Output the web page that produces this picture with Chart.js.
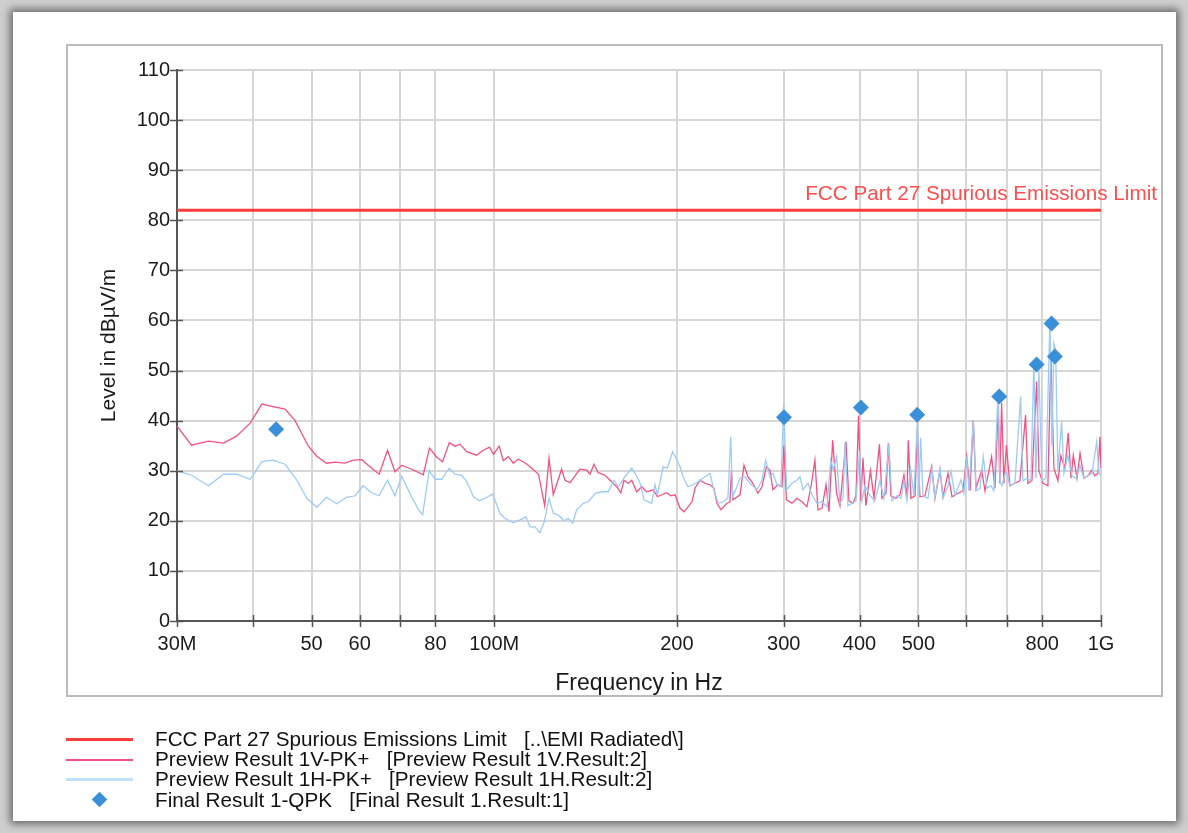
<!DOCTYPE html>
<html>
<head>
<meta charset="utf-8">
<title>EMI Radiated</title>
<script src="https://cdn.jsdelivr.net/npm/chart.js@4.4.1/dist/chart.umd.min.js"></script>
<style>
    html, body { margin: 0; padding: 0; }
    body {
        width: 1188px; height: 833px; position: relative; overflow: hidden;
        background: #cfcfcf;
        font-family: "Liberation Sans", Arial, sans-serif;
    }
    #sheet {
        position: absolute; left: 13px; top: 12px; width: 1163px; height: 809px;
        background: #fff; box-shadow: 0 0 8px 3px rgba(70,70,70,0.75);
    }
    #frame {
        position: absolute; left: 66px; top: 44px; width: 1097px; height: 653px;
        border: 2px solid #bababa; box-sizing: border-box;
    }
    #chart { position: absolute; left: 0; top: 0; }
    .lg { position: absolute; left: 66px; width: 800px; height: 20px; }
    .lg .txt {
        position: absolute; left: 89px; top: 0; white-space: pre;
        font-size: 20.7px; line-height: 20px; color: #111;
    }
    .lg .sw { position: absolute; left: 0; width: 67px; }
    .sw.limit { top: 9px; height: 3px; background: #ff3b3b; }
    .sw.vert { top: 10px; height: 2px; background: #f5507f; }
    .sw.horz { top: 9px; height: 3px; background: #bfe0ff; }
    .sw.final {
        left: 28px; top: 4px; width: 11px; height: 11px; background: #3a8fd9;
        transform: rotate(45deg);
    }
</style>
</head>
<body>
<div id="sheet"></div>
<div id="frame"></div>
<canvas id="chart" width="1188" height="833"></canvas>

<div class="lg" style="top:729px"><span class="sw limit"></span><span class="txt">FCC Part 27 Spurious Emissions Limit   [..\EMI Radiated\]</span></div>
<div class="lg" style="top:749px"><span class="sw vert"></span><span class="txt">Preview Result 1V-PK+   [Preview Result 1V.Result:2]</span></div>
<div class="lg" style="top:769px"><span class="sw horz"></span><span class="txt">Preview Result 1H-PK+   [Preview Result 1H.Result:2]</span></div>
<div class="lg" style="top:790px"><span class="sw final"></span><span class="txt">Final Result 1-QPK   [Final Result 1.Result:1]</span></div>

<script>
// ---- data (frequency in MHz, level in dBµV/m) ----
const xGridValues = [30, 40, 50, 60, 70, 80, 100, 200, 300, 400, 500, 600, 700, 800, 1000];
const xTickLabels = ['30M', '', '50', '60', '', '80', '100M', '200', '300', '400', '500', '', '', '800', '1G'];

const limitName = 'FCC Part 27 Spurious Emissions Limit';
const limitFreq = [30, 1000];
const limitLevel = [82, 82];

const freqV = [
    30.0, 31.7, 33.8, 35.8, 37.6, 39.6, 41.4, 43.2, 45.2, 46.9, 49.4, 51.0, 52.9, 54.6, 56.7, 58.6,
    60.5, 62.4, 64.6, 66.7, 68.6, 70.4, 73.1, 76.4, 78.2, 80.4, 82.2, 84.3, 86.2, 87.8, 90.1, 93.5,
    95.9, 98.2, 99.7, 101.9, 103.5, 105.5, 107.5, 109.5, 111.6, 113.8, 116.0, 118.3, 121.1, 123.1, 125.1, 129.1,
    130.8, 133.3, 138.4, 142.0, 143.8, 146.0, 148.4, 152.2, 156.1, 159.1, 161.7, 163.6, 166.3, 168.5, 171.7, 175.0,
    178.3, 182.9, 185.7, 188.8, 192.4, 195.4, 198.6, 202.4, 205.5, 208.6, 211.8, 214.2, 218.3, 222.4, 226.8, 230.2,
    232.8, 236.4, 241.8, 244.6, 246.0, 247.4, 254.1, 258.0, 261.8, 266.9, 272.0, 276.2, 280.9, 284.7, 287.9, 293.5,
    298.0, 300.2, 303.1, 309.5, 315.4, 321.5, 327.6, 332.7, 337.7, 341.6, 346.8, 352.2, 356.2, 361.2, 366.7, 371.3,
    379.9, 384.2, 390.1, 394.6, 398.5, 402.1, 405.2, 409.8, 416.9, 422.5, 431.4, 435.5, 442.2, 446.1, 450.6, 459.3,
    466.3, 473.4, 478.8, 481.2, 486.2, 493.6, 497.9, 503.0, 512.7, 525.9, 532.5, 542.8, 549.0, 559.6, 568.1, 581.2,
    592.3, 600.7, 608.3, 615.9, 622.3, 635.9, 643.9, 660.3, 668.6, 677.0, 681.0, 685.8, 691.8, 698.4, 707.8, 721.3,
    735.1, 751.1, 757.8, 769.4, 783.2, 790.1, 802.1, 817.5, 826.9, 836.3, 849.1, 858.8, 872.0, 883.0, 892.5, 900.2,
    913.0, 923.5, 937.5, 951.9, 965.3, 977.5, 988.7, 996.0, 1000
];
const levelV = [
    38.9, 35.1, 35.9, 35.5, 36.9, 39.5, 43.3, 42.8, 42.3, 40.1, 34.9, 32.9, 31.5, 31.7, 31.5, 32.1,
    32.2, 30.8, 29.3, 34.1, 29.8, 31.1, 30.3, 29.2, 34.5, 32.7, 31.8, 35.6, 34.9, 35.3, 33.8, 33.1,
    34.1, 34.7, 33.3, 34.9, 32.0, 32.8, 31.5, 32.3, 31.8, 31.1, 30.2, 29.3, 23.0, 32.5, 25.2, 30.3,
    28.1, 27.6, 30.3, 30.1, 29.3, 31.3, 29.6, 29.1, 27.8, 26.8, 25.6, 28.1, 27.5, 28.1, 25.8, 26.8,
    25.8, 26.2, 24.8, 25.2, 25.6, 25.0, 25.2, 22.5, 21.8, 22.8, 23.8, 26.5, 28.1, 27.5, 27.2, 26.5,
    23.5, 22.2, 23.5, 23.8, 30.0, 24.2, 25.2, 31.1, 28.8, 27.5, 25.5, 26.8, 30.8, 30.1, 26.2, 27.2,
    26.8, 35.0, 24.2, 23.5, 24.5, 23.8, 22.8, 26.8, 32.1, 22.2, 22.5, 27.2, 21.8, 36.1, 25.5, 23.0,
    35.8, 24.0, 23.5, 25.0, 41.0, 24.0, 32.6, 23.0, 30.0, 24.5, 35.3, 24.5, 25.5, 35.5, 25.0, 24.5,
    25.2, 29.2, 24.5, 36.1, 24.5, 25.0, 38.0, 24.8, 25.0, 30.8, 24.5, 30.0, 24.8, 29.5, 24.8, 25.5,
    26.0, 32.8, 26.0, 40.1, 26.5, 30.1, 26.0, 32.8, 26.5, 43.0, 27.5, 43.5, 27.5, 35.1, 27.0, 27.5,
    28.0, 41.1, 27.5, 28.0, 47.8, 30.0, 27.5, 27.0, 53.0, 30.5, 28.0, 33.0, 30.5, 37.5, 28.5, 33.1,
    28.5, 33.5, 28.5, 29.0, 30.1, 29.0, 29.5, 36.8, 30.5
];

const freqH = [
    30.0, 31.7, 33.8, 35.8, 37.6, 39.6, 41.4, 43.2, 45.2, 47.3, 49.1, 51.0, 52.9, 55.0, 57.1, 59.0,
    60.8, 62.8, 64.6, 66.7, 68.6, 70.4, 73.1, 75.4, 76.2, 78.1, 79.9, 81.9, 84.3, 86.1, 88.4, 90.1,
    92.4, 94.5, 96.5, 99.4, 102.2, 104.1, 107.5, 110.2, 112.8, 114.5, 116.7, 118.9, 120.9, 123.1, 125.1, 127.5,
    130.3, 132.4, 134.7, 136.7, 140.2, 142.9, 146.7, 150.5, 154.1, 157.6, 160.1, 164.2, 168.5, 171.3, 173.9, 176.6,
    181.8, 184.0, 185.7, 189.9, 192.8, 196.8, 200.0, 202.4, 204.7, 208.6, 212.6, 216.7, 220.7, 226.8, 229.4, 233.7,
    238.2, 242.7, 245.3, 247.1, 251.2, 254.1, 259.0, 263.9, 271.0, 276.2, 280.1, 284.7, 287.9, 292.4, 296.8, 299.9,
    303.3, 309.5, 315.4, 319.0, 322.7, 328.9, 333.9, 340.3, 346.8, 353.5, 358.5, 362.0, 366.7, 371.3, 375.6, 378.4,
    382.8, 388.6, 394.6, 400.0, 403.6, 408.3, 416.1, 424.1, 432.2, 438.8, 447.2, 452.3, 461.0, 468.1, 473.4, 478.8,
    485.3, 491.7, 497.9, 501.1, 504.4, 508.8, 518.6, 526.5, 532.5, 542.8, 549.0, 559.6, 566.0, 574.6, 587.8, 594.5,
    600.7, 605.9, 615.9, 622.3, 631.8, 639.8, 648.6, 658.6, 666.0, 677.0, 681.4, 686.6, 697.1, 707.8, 721.3, 737.1,
    743.5, 754.9, 766.4, 775.2, 781.1, 790.1, 799.1, 811.3, 823.8, 830.0, 836.3, 841.8, 849.1, 861.1, 868.7, 881.9,
    895.8, 909.5, 923.5, 937.5, 951.9, 966.5, 983.8, 992.5, 1000
];
const levelH = [
    30.0, 29.1, 27.0, 29.3, 29.3, 28.3, 31.8, 32.1, 31.3, 28.1, 24.5, 22.7, 24.7, 23.4, 24.7, 25.0,
    27.0, 25.6, 25.0, 28.1, 25.0, 28.9, 24.7, 21.8, 21.2, 30.0, 28.3, 28.3, 30.5, 29.3, 29.1, 27.8,
    24.8, 24.0, 24.5, 25.3, 21.5, 20.5, 19.6, 20.2, 20.8, 18.8, 18.8, 17.6, 19.8, 24.5, 21.5, 21.2,
    20.0, 20.5, 19.5, 22.2, 23.5, 23.8, 25.5, 25.8, 25.8, 28.1, 26.8, 28.8, 30.5, 29.1, 27.5, 24.2,
    23.5, 27.2, 25.2, 30.8, 30.5, 33.8, 32.1, 30.8, 28.8, 26.8, 27.2, 27.8, 28.5, 29.5, 26.8, 23.5,
    23.8, 24.5, 36.8, 24.8, 26.8, 28.5, 28.8, 27.5, 26.2, 28.1, 32.1, 28.8, 29.5, 27.2, 26.8, 43.5,
    26.2, 27.5, 28.1, 28.8, 26.2, 27.5, 25.2, 23.5, 23.8, 22.8, 32.1, 30.1, 32.8, 23.5, 24.5, 35.6,
    23.0, 23.5, 24.0, 34.0, 24.0, 27.0, 25.0, 24.0, 28.0, 24.5, 35.3, 24.0, 25.0, 24.5, 28.0, 24.0,
    30.5, 25.0, 39.7, 25.0, 36.6, 25.0, 24.5, 30.5, 24.5, 30.5, 24.5, 27.0, 29.9, 25.0, 28.2, 25.5,
    32.8, 26.0, 40.1, 26.0, 26.5, 32.8, 26.5, 27.0, 26.0, 46.1, 28.0, 27.0, 30.0, 27.0, 27.5, 44.8,
    28.0, 28.5, 28.0, 51.8, 28.5, 49.8, 28.0, 28.5, 60.1, 35.0, 55.4, 54.1, 30.0, 39.8, 29.5, 33.0,
    29.0, 28.5, 31.0, 28.5, 29.0, 29.5, 35.8, 29.5, 29.0
];

const finalFreq = [43.7, 300.3, 402.0, 497.8, 679.6, 783.2, 829.0, 839.5];
const finalLevel = [38.3, 40.7, 42.6, 41.2, 44.8, 51.2, 59.4, 52.8];

// ---- helpers ----
const fontFamily = '"Liberation Sans", Arial, sans-serif';
const toPoints = (xs, ys) => xs.map((x, i) => ({ x, y: ys[i] }));

// tick marks that cross both axes, like the EMC software draws them
const axisTicks = {
    id: 'axisTicks',
    afterDraw(chart) {
        const { ctx, scales: { x, y } } = chart;
        ctx.save();
        ctx.strokeStyle = '#555';
        ctx.lineWidth = 1.5;
        ctx.beginPath();
        y.ticks.forEach(t => {
            const py = Math.round(y.getPixelForValue(t.value)) + 0.5;
            ctx.moveTo(x.left - 7, py);
            ctx.lineTo(x.left + 6, py);
        });
        x.ticks.forEach(t => {
            const px = Math.round(x.getPixelForValue(t.value)) + 0.5;
            ctx.moveTo(px, y.bottom - 6);
            ctx.lineTo(px, y.bottom + 6);
        });
        ctx.stroke();
        ctx.restore();
    }
};

// text label sitting on top of the limit line, right end past the plot
const limitLabel = {
    id: 'limitLabel',
    afterDatasetsDraw(chart) {
        const { ctx, chartArea, scales: { y } } = chart;
        ctx.save();
        ctx.font = '20.7px ' + fontFamily;
        ctx.fillStyle = '#ff4d4d';
        ctx.textAlign = 'right';
        ctx.textBaseline = 'middle';
        ctx.fillText(limitName, chartArea.right + 56, y.getPixelForValue(limitLevel[0]) - 16);
        ctx.restore();
    }
};

new Chart(document.getElementById('chart'), {
    type: 'line',
    data: {
        datasets: [
            {
                label: 'Final Result 1-QPK',
                data: toPoints(finalFreq, finalLevel),
                showLine: false,
                pointStyle: 'rectRot',
                pointRadius: 8,
                pointBackgroundColor: '#3a8fd9',
                pointBorderColor: '#3a8fd9',
                pointBorderWidth: 0,
                order: 0,
            },
            {
                label: limitName,
                data: toPoints(limitFreq, limitLevel),
                borderColor: '#ff3b3b',
                borderWidth: 3,
                pointRadius: 0,
                order: 1,
            },
            {
                label: 'Preview Result 1H-PK+',
                data: toPoints(freqH, levelH),
                borderColor: '#9ccbf7',
                borderWidth: 1.3,
                pointRadius: 0,
                tension: 0,
                order: 2,
            },
            {
                label: 'Preview Result 1V-PK+',
                data: toPoints(freqV, levelV),
                borderColor: '#f5507f',
                borderWidth: 1.3,
                pointRadius: 0,
                tension: 0,
                order: 3,
            },
        ]
    },
    options: {
        responsive: false,
        animation: false,
        layout: { padding: { left: 95, top: 70, right: 87, bottom: 132 } },
        plugins: {
            legend: { display: false },
            tooltip: { enabled: false },
        },
        scales: {
            x: {
                type: 'logarithmic',
                min: 30,
                max: 1000,
                afterBuildTicks: scale => { scale.ticks = xGridValues.map(value => ({ value })); },
                afterFit: scale => { scale.height = 80; },
                grid: { color: '#d6d6d6', lineWidth: 2, drawTicks: false },
                border: { display: true, color: '#555', width: 2 },
                ticks: {
                    autoSkip: false,
                    maxRotation: 0,
                    padding: 11,
                    color: '#1a1a1a',
                    font: { family: fontFamily, size: 20 },
                    callback: (value, index) => xTickLabels[index],
                },
                title: {
                    display: true,
                    text: 'Frequency in Hz',
                    color: '#1a1a1a',
                    font: { family: fontFamily, size: 23 },
                    padding: { top: 0, bottom: 4 },
                },
            },
            y: {
                min: 0,
                max: 110,
                afterFit: scale => { scale.width = 82; },
                grid: { color: '#d6d6d6', lineWidth: 2, drawTicks: false },
                border: { display: true, color: '#555', width: 2 },
                ticks: {
                    stepSize: 5,
                    padding: 7,
                    color: '#1a1a1a',
                    font: { family: fontFamily, size: 20 },
                    callback: v => (v % 10 === 0 ? v : ''),
                },
                title: {
                    display: true,
                    text: 'Level in dBµV/m',
                    color: '#1a1a1a',
                    font: { family: fontFamily, size: 21 },
                    padding: { top: 2, bottom: 0 },
                },
            },
        },
    },
    plugins: [axisTicks, limitLabel],
});
</script>
</body>
</html>
